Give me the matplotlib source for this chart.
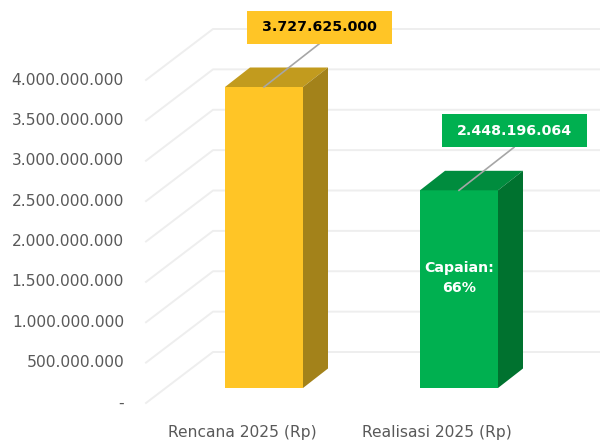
import matplotlib
matplotlib.use("Agg")
import matplotlib.pyplot as plt
from matplotlib.patches import Rectangle, Polygon

# data
categories = ["Rencana 2025 (Rp)", "Realisasi 2025 (Rp)"]
values = [3727625000, 2448196064]
value_labels = ["3.727.625.000", "2.448.196.064"]
ticks = [0, 500000000, 1000000000, 1500000000, 2000000000,
         2500000000, 3000000000, 3500000000, 4000000000]
tick_labels = ["-", "500.000.000", "1.000.000.000", "1.500.000.000", "2.000.000.000",
               "2.500.000.000", "3.000.000.000", "3.500.000.000", "4.000.000.000"]
capaian = "Capaian:\n66%"

# colours per bar: front, top, side, label box, label text
front = ["#FFC526", "#00B050"]
top = ["#C29B1E", "#008C3E"]
side = ["#A3821A", "#00722F"]
box_col = ["#FFC526", "#00B050"]
box_txt = ["black", "white"]

fig = plt.figure(figsize=(6, 4.41), dpi=100)
ax = fig.add_axes([0, 0, 1, 1])
ax.axis("off")

# value per pixel, so the 3d offsets can be given in pixels
vpp = 4e9 / 323
ax.set_xlim(0, 600)
ax.set_ylim(-38 * vpp, 4e9 + 80 * vpp)

# slanted floor/wall gridlines
back = 51 * vpp
for t, lab in zip(ticks, tick_labels):
    ax.plot([146, 213, 600], [t, t + back, t + back], color="#EEEEEE", lw=1.4, zorder=1)
    ax.text(124, t, lab, ha="right", va="center", fontsize=11.2, color="#595959")

bar_left = [225, 420]
w = 78
dx = 25
dy = 19.5 * vpp
base = 15 * vpp
for i, v in enumerate(values):
    x0 = bar_left[i]
    ytop = base + v
    ax.add_patch(Rectangle((x0, base), w, v, facecolor=front[i], edgecolor="none", zorder=3))
    ax.add_patch(Polygon([(x0, ytop), (x0 + w, ytop), (x0 + w + dx, ytop + dy), (x0 + dx, ytop + dy)],
                         closed=True, facecolor=top[i], edgecolor="none", zorder=3))
    ax.add_patch(Polygon([(x0 + w, base), (x0 + w + dx, base + dy), (x0 + w + dx, ytop + dy), (x0 + w, ytop)],
                         closed=True, facecolor=side[i], edgecolor="none", zorder=3))

    cx = x0 + w / 2
    # category label on the front floor
    ax.text(cx - 22, -29 * vpp, categories[i], ha="center", va="center",
            fontsize=11.2, color="#595959")

    # data label box with leader line
    bx = cx + 55
    bw = 145
    bh = 33 * vpp
    bbot = ytop + 43 * vpp
    ax.plot([cx, bx], [ytop, bbot], color="#A6A6A6", lw=1.2, zorder=4)
    ax.add_patch(Rectangle((bx - bw / 2, bbot), bw, bh, facecolor=box_col[i], edgecolor="none", zorder=5))
    ax.text(bx, bbot + bh / 2, value_labels[i], ha="center", va="center", fontsize=10.2,
            fontweight="bold", color=box_txt[i], zorder=6)

ax.text(bar_left[1] + w / 2, base + values[1] * 0.555, capaian, ha="center", va="center",
        fontsize=10.2, fontweight="bold", color="white", linespacing=1.55, zorder=6)

fig.savefig("out.png", dpi=100)
